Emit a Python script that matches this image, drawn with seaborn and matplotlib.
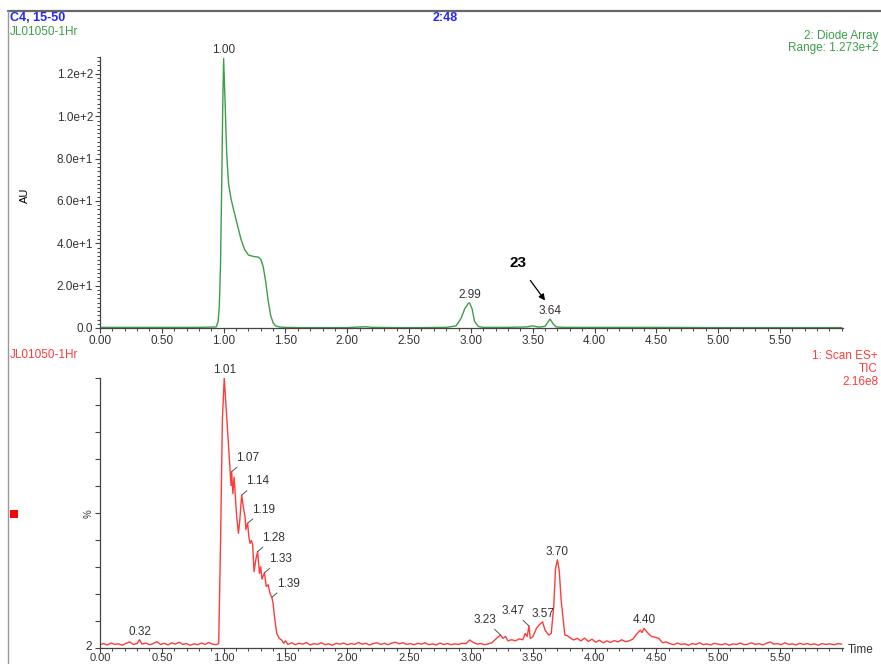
import numpy as np
import pandas as pd
import matplotlib
matplotlib.use("Agg")
import matplotlib.pyplot as plt
from matplotlib.lines import Line2D
from matplotlib.patches import Rectangle
from matplotlib.ticker import MultipleLocator, FixedLocator
from matplotlib.transforms import ScaledTranslation
import seaborn as sns

# --- Diode array trace (AU) ---
green_points = [
    (0.00, 0.3), (0.20, 0.3), (0.40, 0.3), (0.60, 0.3), (0.80, 0.3), (0.94, 0.5),
    (0.955, 3), (0.965, 10), (0.975, 30), (0.985, 70), (0.993, 105), (1.00, 127.3),
    (1.01, 110), (1.025, 82), (1.04, 68), (1.06, 61), (1.08, 56), (1.11, 49),
    (1.14, 42), (1.17, 37), (1.20, 34.5), (1.24, 33.8), (1.28, 33.5), (1.30, 32.5),
    (1.32, 29), (1.34, 22), (1.36, 13), (1.38, 6), (1.40, 2.5), (1.42, 1.0),
    (1.45, 0.5), (1.50, 0.3), (1.60, 0.2), (1.80, 0.2), (2.00, 0.2), (2.15, 0.6),
    (2.20, 0.3), (2.40, 0.2), (2.60, 0.2), (2.80, 0.3), (2.88, 1.0), (2.92, 4.5),
    (2.95, 9), (2.98, 11.7), (2.99, 11.8), (3.01, 9), (3.03, 3), (3.06, 0.7),
    (3.10, 0.3), (3.30, 0.3), (3.45, 0.5), (3.50, 1.0), (3.55, 0.4), (3.60, 0.8),
    (3.62, 2.5), (3.64, 4.2), (3.665, 2.0), (3.69, 0.5), (3.75, 0.3), (4.00, 0.3),
    (4.40, 0.3), (5.00, 0.2), (5.50, 0.2), (6.00, 0.2),
]
green_peaks = [(1.00, 127.3, "1.00"), (2.99, 11.8, "2.99"), (3.64, 4.2, "3.64")]

# --- TIC trace (%) ---
red_early = [
    (0.00, 3.2), (0.03, 3.6), (0.06, 3.1), (0.09, 3.8), (0.12, 3.3), (0.15, 3.5),
    (0.18, 3.0), (0.21, 3.7), (0.24, 4.2), (0.27, 3.3), (0.30, 3.6), (0.32, 5.0),
    (0.34, 3.4), (0.37, 3.8), (0.40, 3.2), (0.43, 3.6), (0.46, 4.3), (0.49, 3.3),
    (0.52, 3.7), (0.55, 3.1), (0.58, 3.9), (0.61, 3.4), (0.64, 4.1), (0.67, 3.3),
    (0.70, 3.6), (0.73, 3.0), (0.76, 3.5), (0.79, 3.2), (0.82, 3.8), (0.85, 3.3),
    (0.88, 4.0), (0.91, 3.4), (0.94, 3.2), (0.96, 3.6),
]
red_main = [
    (0.975, 40), (0.99, 85), (1.005, 100), (1.03, 82), (1.05, 68), (1.06, 61),
    (1.065, 66), (1.075, 58), (1.085, 64), (1.095, 57), (1.105, 50), (1.12, 43.6),
    (1.13, 48), (1.146, 57.5), (1.16, 53), (1.173, 49.7), (1.18, 45), (1.194, 47.3),
    (1.205, 42), (1.214, 40), (1.225, 41), (1.235, 39.4), (1.246, 29.7), (1.26, 34),
    (1.275, 37), (1.29, 29.1), (1.30, 31.5), (1.31, 27), (1.33, 29.3), (1.345, 24.3),
    (1.36, 25), (1.375, 21.8), (1.39, 20.4), (1.40, 18.2), (1.415, 12), (1.43, 7.3),
    (1.45, 5.5), (1.47, 4.9), (1.485, 3.7), (1.50, 4.6),
]
red_mid = [
    (1.52, 3.3), (1.55, 3.9), (1.58, 3.2), (1.61, 3.7), (1.64, 3.4), (1.67, 4.0),
    (1.70, 3.1), (1.73, 3.6), (1.76, 3.3), (1.79, 3.9), (1.82, 3.2), (1.85, 3.5),
    (1.88, 3.0), (1.91, 3.7), (1.94, 3.4), (1.97, 3.8), (2.00, 3.2), (2.03, 3.6),
    (2.06, 3.3), (2.09, 4.0), (2.12, 3.4), (2.15, 3.7), (2.18, 3.1), (2.21, 3.6),
    (2.24, 3.9), (2.27, 3.3), (2.30, 3.7), (2.33, 3.2), (2.36, 3.8), (2.39, 4.1),
    (2.42, 3.5), (2.45, 3.9), (2.48, 3.3), (2.51, 3.6), (2.54, 3.2), (2.57, 3.7),
    (2.60, 3.4), (2.63, 3.9), (2.66, 3.2), (2.69, 3.5), (2.72, 3.1), (2.75, 3.8),
    (2.78, 3.3), (2.81, 3.6), (2.84, 3.2), (2.87, 3.5), (2.90, 3.3), (2.93, 3.7),
]
red_cluster = [
    (2.96, 3.6), (2.99, 4.9), (3.02, 4.0), (3.05, 3.4), (3.08, 3.6), (3.11, 3.2),
    (3.14, 3.5), (3.17, 3.9), (3.20, 5.2), (3.22, 6.0), (3.24, 6.7), (3.26, 5.5),
    (3.28, 6.2), (3.30, 4.6), (3.33, 5.0), (3.36, 4.6), (3.39, 5.3), (3.42, 5.0),
    (3.44, 7.3), (3.455, 6.2), (3.47, 10.0), (3.48, 5.5), (3.50, 6.0), (3.53, 9.1),
    (3.555, 10.5), (3.58, 11.5), (3.60, 8.5), (3.63, 6.7), (3.65, 7.3), (3.67, 17),
    (3.685, 31), (3.70, 34), (3.715, 30), (3.73, 19.4), (3.76, 6.7), (3.78, 6.5),
    (3.80, 5.8), (3.83, 4.9), (3.86, 5.5), (3.89, 4.6), (3.92, 5.6), (3.95, 4.4),
    (3.98, 5.2), (4.01, 4.1), (4.04, 4.8), (4.07, 3.9), (4.10, 4.6), (4.13, 4.0),
    (4.16, 4.7), (4.19, 4.2), (4.22, 5.0), (4.25, 4.3), (4.28, 4.6), (4.31, 5.2),
    (4.34, 7.0), (4.37, 8.5), (4.385, 7.6), (4.40, 9.1), (4.43, 7.5), (4.46, 6.2),
    (4.49, 5.9), (4.52, 5.5), (4.55, 3.9), (4.58, 4.2),
]
red_late = [
    (4.61, 3.6), (4.64, 3.2), (4.67, 3.8), (4.70, 3.3), (4.73, 3.5), (4.76, 3.0),
    (4.79, 3.6), (4.82, 3.3), (4.85, 3.9), (4.88, 3.2), (4.91, 3.5), (4.94, 3.1),
    (4.97, 3.7), (5.00, 3.4), (5.03, 3.2), (5.06, 3.6), (5.09, 3.0), (5.12, 3.5),
    (5.15, 3.3), (5.18, 3.8), (5.21, 3.2), (5.24, 3.4), (5.27, 3.9), (5.30, 3.3),
    (5.33, 3.6), (5.36, 3.1), (5.39, 3.7), (5.42, 4.2), (5.45, 3.4), (5.48, 3.6),
    (5.51, 3.2), (5.54, 3.9), (5.57, 3.3), (5.60, 3.5), (5.63, 3.1), (5.66, 3.7),
    (5.69, 3.3), (5.72, 3.6), (5.75, 3.2), (5.78, 3.5), (5.81, 3.0), (5.84, 3.6),
    (5.87, 3.3), (5.90, 3.5), (5.94, 3.2), (5.97, 3.6), (6.00, 3.4),
]
# peaks labelled straight above
red_top_labels = [(0.32, 5.0, "0.32"), (1.005, 100, "1.01"), (3.58, 11.5, "3.57"),
                  (3.70, 34, "3.70"), (4.40, 9.1, "4.40")]
# peaks labelled with a leader to the upper right
red_right_labels = [(1.065, 66, "1.07"), (1.146, 57.5, "1.14"), (1.194, 47.3, "1.19"),
                    (1.275, 37, "1.28"), (1.33, 29.3, "1.33"), (1.39, 20.4, "1.39")]
# peaks labelled with a leader to the upper left
red_left_labels = [(3.24, 6.7, "3.23"), (3.47, 10.0, "3.47")]

x_ticks = [0.0, 0.5, 1.0, 1.5, 2.0, 2.5, 3.0, 3.5, 4.0, 4.5, 5.0, 5.5]
au_ticks = [0, 20, 40, 60, 80, 100, 120]

GREEN = "#3c9e48"
RED = "#ff3c3c"
BLUE = "#2424ff"
LABEL = "#333333"

sns.set_theme(style="ticks")
plt.rcParams["font.family"] = ["Liberation Sans", "DejaVu Sans"]
plt.rcParams["axes.linewidth"] = 0.9
plt.rcParams["axes.edgecolor"] = "#444444"

W, H = 881, 664
fig = plt.figure(figsize=(W / 100, H / 100), dpi=100)


def fx(px):
    return px / W


def fy(py):
    return 1 - py / H


def style_axis(ax, pad=1.5):
    sns.despine(ax=ax)
    ax.set_xlim(0, 6.01)
    ax.xaxis.set_major_locator(FixedLocator(x_ticks))
    ax.xaxis.set_minor_locator(MultipleLocator(0.1))
    ax.set_xticklabels([f"{t:.2f}" for t in x_ticks])
    ax.tick_params(which="major", length=3.5, width=0.8, color="#444444",
                   labelsize=8.5, labelcolor=LABEL, pad=1.5)
    ax.tick_params(axis="x", which="major", pad=pad)
    ax.tick_params(which="minor", length=2.2, width=0.7, color="#444444")
    ax.set_xlabel("")
    ax.set_ylabel("")
    ax.patch.set_alpha(0)


# top panel: diode array
ax1 = fig.add_axes([fx(100), fy(328), fx(843) - fx(100), fy(57) - fy(328)])
gdf = pd.DataFrame(green_points, columns=["time", "au"])
sns.lineplot(data=gdf, x="time", y="au", ax=ax1, color=GREEN, lw=1.0,
             estimator=None, sort=False)
style_axis(ax1)
ax1.set_ylim(0, 128)
ax1.yaxis.set_major_locator(FixedLocator(au_ticks))
ax1.yaxis.set_minor_locator(MultipleLocator(2))


def sci(v):
    if v == 0:
        return "0.0"
    e = int(np.floor(np.log10(v)))
    return f"{v / 10 ** e:.1f}e+{e}"


ax1.set_yticklabels([sci(v) for v in au_ticks])
for t, v, s in green_peaks:
    ax1.annotate(s, (t, v), xytext=(0, 1.5), textcoords="offset points",
                 ha="center", va="bottom", fontsize=8.5, color=LABEL)

ax1.annotate("23", xy=(3.60, 13.0), xytext=(3.38, 30.5), textcoords="data",
             ha="center", va="center", fontsize=11, fontweight="bold", color="black",
             arrowprops=dict(arrowstyle="-|>", color="black", lw=0.9,
                             mutation_scale=9, shrinkA=6, shrinkB=0))

# bottom panel: TIC
ax2 = fig.add_axes([fx(100), fy(648), fx(843) - fx(100), fy(378) - fy(648)])
rdf = pd.DataFrame(red_early + red_main + red_mid + red_cluster + red_late,
                   columns=["time", "pct"])
sns.lineplot(data=rdf, x="time", y="pct", ax=ax2, color=RED, lw=1.0,
             estimator=None, sort=False)
style_axis(ax2, pad=0.2)
ax2.set_ylim(2, 100)
pct_ticks = list(np.linspace(2, 100, 11))
ax2.yaxis.set_major_locator(FixedLocator(pct_ticks))
ax2.set_yticklabels(["2"] + [""] * 10)
for lab in ax2.get_xticklabels():
    lab.set_fontsize(8)
# lift the "2" a little so it clears the 0.00 label below it
lift = ScaledTranslation(-1 / 100, 3 / 100, fig.dpi_scale_trans)
for lab in ax2.get_yticklabels():
    lab.set_transform(lab.get_transform() + lift)

for t, v, s in red_top_labels:
    ax2.annotate(s, (t, v), xytext=(0, 1.5), textcoords="offset points",
                 ha="center", va="bottom", fontsize=8.5, color=LABEL)
for t, v, s in red_right_labels:
    ax2.annotate(s, (t, v), xytext=(3.5, 5.5), textcoords="offset points",
                 ha="left", va="bottom", fontsize=8.5, color=LABEL,
                 arrowprops=dict(arrowstyle="-", color="#555555", lw=0.7,
                                 shrinkA=0, shrinkB=0))
for t, v, s in red_left_labels:
    ax2.annotate(s, (t, v), xytext=(-3, 6.5), textcoords="offset points",
                 ha="right", va="bottom", fontsize=8.5, color=LABEL,
                 arrowprops=dict(arrowstyle="-", color="#555555", lw=0.7,
                                 shrinkA=0, shrinkB=0))

# header and side texts
fig.text(fx(10), fy(18), "C4, 15-50", color=BLUE, fontsize=9, fontweight="bold",
         ha="left", va="center")
fig.text(fx(10), fy(32), "JL01050-1Hr", color=GREEN, fontsize=8.5, ha="left", va="center")
fig.text(fx(445), fy(18), "2:48", color=BLUE, fontsize=9, fontweight="bold",
         ha="center", va="center")
fig.text(fx(878), fy(36), "2: Diode Array", color=GREEN, fontsize=8.5,
         ha="right", va="center")
fig.text(fx(878), fy(48), "Range: 1.273e+2", color=GREEN, fontsize=8.5,
         ha="right", va="center")
fig.text(fx(25), fy(195), "AU", color="black", fontsize=8, rotation=90,
         ha="center", va="center")

fig.text(fx(10), fy(355), "JL01050-1Hr", color=RED, fontsize=8.5, ha="left", va="center")
fig.text(fx(878), fy(356), "1: Scan ES+", color=RED, fontsize=8.5, ha="right", va="center")
fig.text(fx(878), fy(369), "TIC", color=RED, fontsize=8.5, ha="right", va="center")
fig.text(fx(878), fy(382), "2.16e8", color=RED, fontsize=8.5, ha="right", va="center")
fig.text(fx(89), fy(514), "%", color=LABEL, fontsize=7, rotation=90,
         ha="center", va="center")
fig.text(fx(848), fy(650), "Time", color=LABEL, fontsize=8.5, ha="left", va="center")
fig.add_artist(Rectangle((fx(10), fy(518)), fx(8), fy(510) - fy(518),
                         transform=fig.transFigure, color="red", lw=0))

# outer frame
fig.add_artist(Line2D([fx(8), 1], [fy(11), fy(11)], transform=fig.transFigure,
                      color="#666666", lw=1.6))
fig.add_artist(Line2D([fx(8), fx(8)], [fy(11), 0], transform=fig.transFigure,
                      color="#999999", lw=1.0))

fig.savefig("out.png", dpi=100)
